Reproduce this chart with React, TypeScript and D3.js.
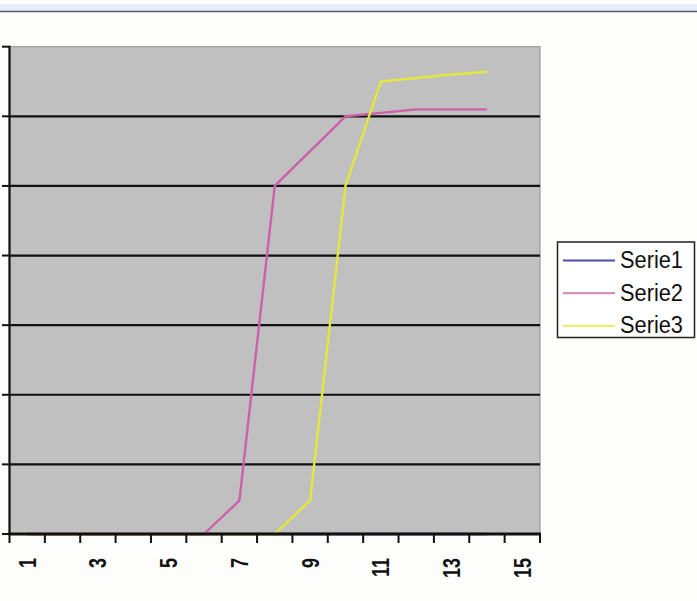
import React, { useEffect, useRef } from 'react';
import * as d3 from 'd3';

// chart data
const categories = ['1', '2', '3', '4', '5', '6', '7', '8', '9', '10', '11', '12', '13', '14', '15'];
const serie1 = [0, 0, 0, 0, 0, 0, 0, 0, 0, 0, 0, 0, 0, 0];
const serie2 = [0, 0, 0, 0, 0, 0, 0.48, 5.0, 5.5, 6.0, 6.05, 6.1, 6.1, 6.1];
const serie3 = [0, 0, 0, 0, 0, 0, 0, 0, 0.48, 5.0, 6.5, 6.55, 6.6, 6.64];
const yTicks = [0, 1, 2, 3, 4, 5, 6, 7];
const xLabels = ['1', '3', '5', '7', '9', '11', '13', '15'];

const seriesNames = ['Serie1', 'Serie2', 'Serie3'];
const seriesColors = ['#3c3ca0', '#cc60aa', '#e6e63c'];
const legendColors = ['#4a4ab0', '#d890bc', '#ecec70'];

export default function App() {
  const svgRef = useRef<SVGSVGElement>(null);
  const width = 697;
  const height = 601;

  useEffect(() => {
    if (!svgRef.current) return;
    const svg = d3.select(svgRef.current);
    svg.selectAll('*').remove();

    const plot = { left: 9.5, right: 540, top: 46.7, bottom: 534 };

    // page background + top strip
    svg.append('rect').attr('width', width).attr('height', height).attr('fill', '#fdfdfc');
    svg.append('rect').attr('x', 0).attr('y', 4).attr('width', width).attr('height', 7).attr('fill', '#e3eefa');
    svg.append('line')
      .attr('x1', 0).attr('x2', width).attr('y1', 11.5).attr('y2', 11.5)
      .attr('stroke', '#5a5f66').attr('stroke-width', 1.5);

    const x = d3.scaleBand().domain(categories).range([plot.left, plot.right]).paddingInner(0).paddingOuter(0);
    const y = d3.scaleLinear().domain([0, 7]).range([plot.bottom, plot.top]);

    // plot area
    svg.append('rect')
      .attr('x', plot.left).attr('y', plot.top)
      .attr('width', plot.right - plot.left).attr('height', plot.bottom - plot.top)
      .attr('fill', '#c0c0c0')
      .attr('stroke', '#9a9a9a').attr('stroke-width', 1.2);

    // gridlines
    svg.append('g')
      .selectAll('line')
      .data(yTicks.filter((t) => t > 0 && t < 7))
      .enter()
      .append('line')
      .attr('x1', plot.left).attr('x2', plot.right)
      .attr('y1', (d) => y(d)).attr('y2', (d) => y(d))
      .attr('stroke', '#111').attr('stroke-width', 2.2);

    // series lines
    const series = [serie1, serie2, serie3];
    const line = d3.line<number>()
      .x((_, i) => (x(categories[i]) || 0) + x.bandwidth() / 2)
      .y((d) => y(d));

    series.forEach((values, i) => {
      svg.append('path')
        .datum(values)
        .attr('d', line)
        .attr('fill', 'none')
        .attr('stroke', seriesColors[i])
        .attr('stroke-width', 2.4)
        .attr('stroke-linejoin', 'round');
    });

    // axes
    svg.append('line')
      .attr('x1', plot.left).attr('x2', plot.left)
      .attr('y1', plot.top - 1).attr('y2', plot.bottom + 1)
      .attr('stroke', '#111').attr('stroke-width', 2.2);
    svg.append('line')
      .attr('x1', plot.left - 1).attr('x2', plot.right + 1)
      .attr('y1', plot.bottom).attr('y2', plot.bottom)
      .attr('stroke', '#111').attr('stroke-width', 3);

    svg.append('g')
      .selectAll('line')
      .data(yTicks)
      .enter()
      .append('line')
      .attr('x1', 2).attr('x2', plot.left)
      .attr('y1', (d) => y(d)).attr('y2', (d) => y(d))
      .attr('stroke', '#111').attr('stroke-width', 2);

    const tickXs = categories.map((c) => x(c) || 0).concat([plot.right]);
    svg.append('g')
      .selectAll('line')
      .data(tickXs)
      .enter()
      .append('line')
      .attr('x1', (d) => d).attr('x2', (d) => d)
      .attr('y1', plot.bottom).attr('y2', plot.bottom + 9)
      .attr('stroke', '#111').attr('stroke-width', 2);

    // category labels, rotated
    svg.append('g')
      .selectAll('text')
      .data(xLabels)
      .enter()
      .append('text')
      .attr('transform', (d) => `translate(${(x(d) || 0) + x.bandwidth() / 2},558) rotate(-90) scale(1,1.3)`)
      .attr('text-anchor', 'end')
      .attr('dominant-baseline', 'central')
      .style('font-family', '"Liberation Sans", Arial, sans-serif')
      .style('font-size', '18px')
      .style('font-weight', 'bold')
      .attr('fill', '#111')
      .text((d) => d);

    // legend
    const legend = svg.append('g');
    legend.append('rect')
      .attr('x', 557.5).attr('y', 242)
      .attr('width', 137).attr('height', 95.5)
      .attr('fill', '#fff')
      .attr('stroke', '#222').attr('stroke-width', 1.5);

    seriesNames.forEach((name, i) => {
      const cy = 260.5 + i * 32.7;
      legend.append('line')
        .attr('x1', 563).attr('x2', 615)
        .attr('y1', cy).attr('y2', cy)
        .attr('stroke', legendColors[i]).attr('stroke-width', 2.2);
      legend.append('text')
        .attr('x', 620)
        .attr('y', cy + 7.5)
        .attr('textLength', 63)
        .attr('lengthAdjust', 'spacingAndGlyphs')
        .style('font-family', '"Liberation Sans", Arial, sans-serif')
        .style('font-size', '23.5px')
        .attr('fill', '#111')
        .text(name);
    });
  }, []);

  return (
    <svg
      ref={svgRef}
      width={width}
      height={height}
      style={{ position: 'absolute', left: 0, top: 0, display: 'block' }}
    />
  );
}
